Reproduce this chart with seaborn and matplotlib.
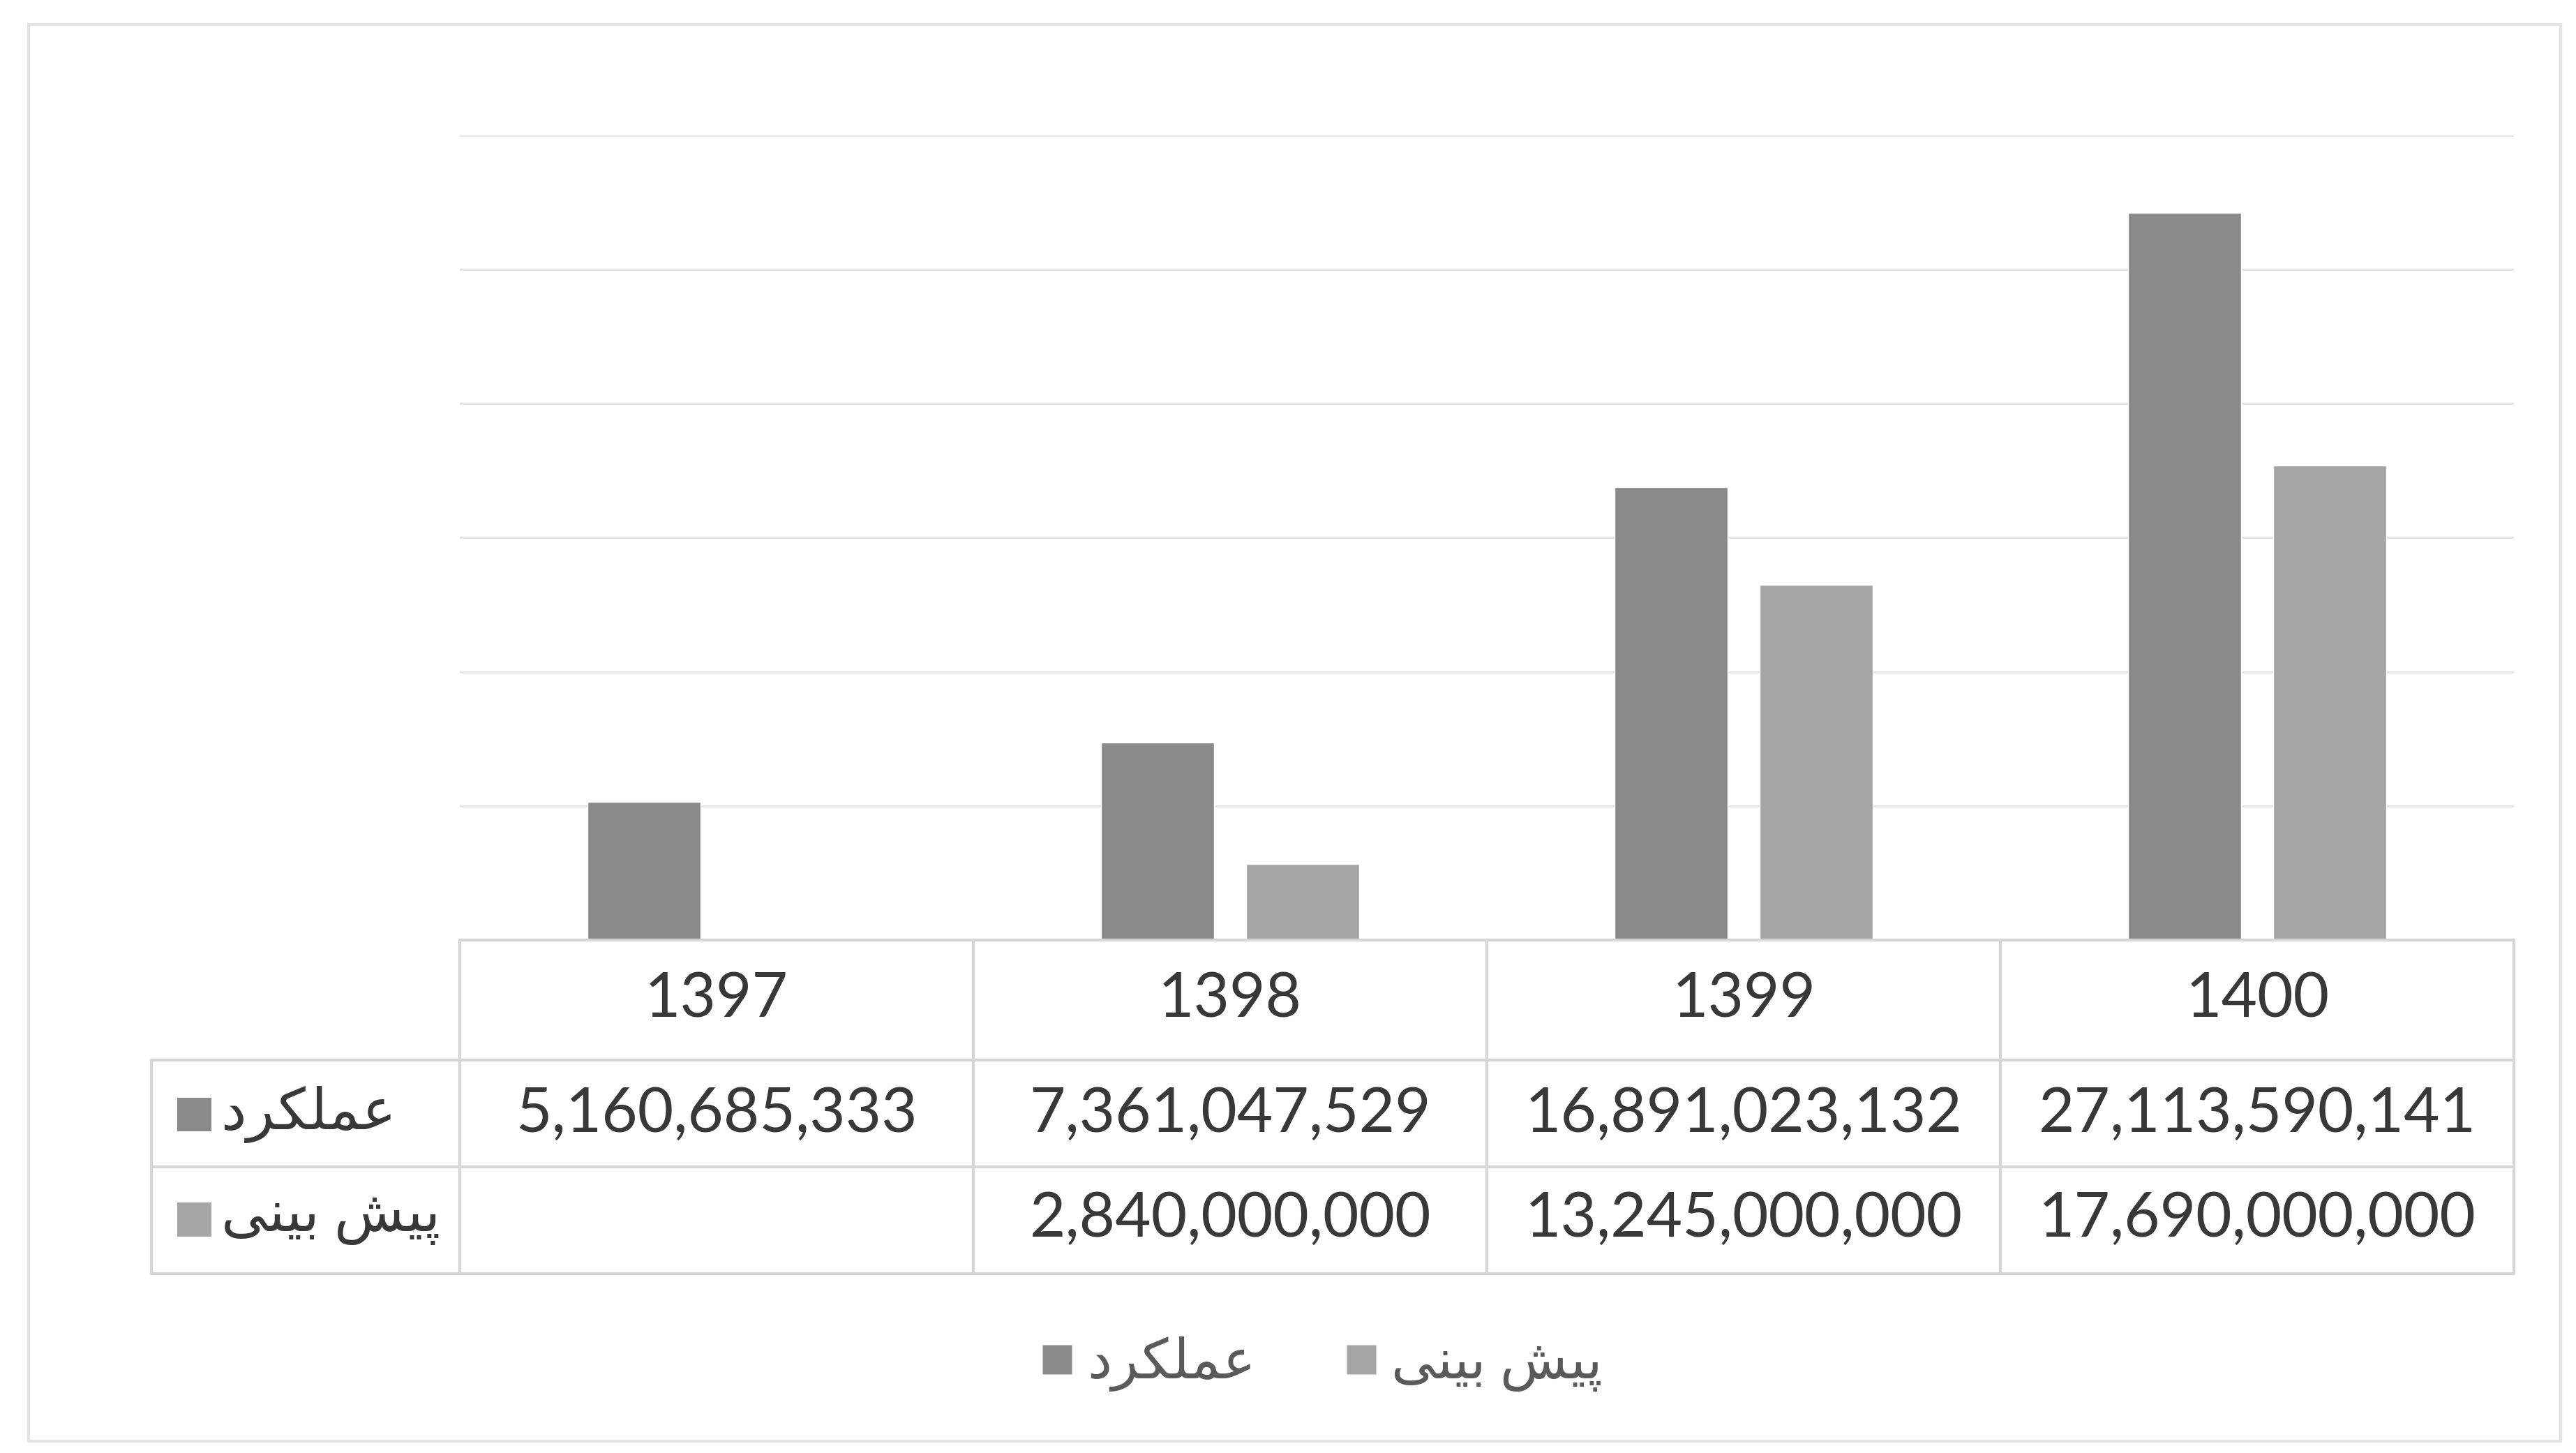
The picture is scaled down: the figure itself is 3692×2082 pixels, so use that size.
import numpy as np
import pandas as pd
import matplotlib
matplotlib.use('Agg')
import matplotlib.pyplot as plt
from matplotlib.patches import Rectangle
from matplotlib.lines import Line2D
import seaborn as sns

# داده‌ها
years = ['1397', '1398', '1399', '1400']
amalkard = [5160685333, 7361047529, 16891023132, 27113590141]
pish_bini = [np.nan, 2840000000, 13245000000, 17690000000]

# عملکرد / پیش بینی  (حروف به شکل اتصال‌یافته و ترتیب نمایشی، چون matplotlib شکل‌دهی عربی ندارد)
series_names = ['\uFEA9\uFEAE\uFB91\uFEE0\uFEE4\uFECB',
                '\uFBFD\uFEE8\uFBFF\uFE91 \uFEB6\uFBFF\uFB58']
series_colors = ['#8a8a8a', '#a6a6a6']

df = pd.DataFrame({
    'year': years * 2,
    'value': amalkard + pish_bini,
    'series': [series_names[0]] * 4 + [series_names[1]] * 4,
}).dropna()

sns.set_theme(style='white')
plt.rcParams['font.family'] = ['Lato', 'DejaVu Sans']

text_color = '#383838'
line_color = '#d6d6d6'

fig = plt.figure(figsize=(36.92, 20.82), dpi=100)
fig.patch.set_facecolor('white')
ax = fig.add_axes([0.1785, 0.353, 0.7975, 0.554])

sns.barplot(data=df, x='year', y='value', hue='series', order=years,
            hue_order=series_names, palette=series_colors, width=0.565, gap=0.22,
            errorbar=None, saturation=1, legend=False, ax=ax)

ax.set_xlim(-0.5, 3.5)
ax.set_ylim(0, 30e9)
ax.set_yticks(np.arange(5e9, 30.1e9, 5e9))
ax.yaxis.grid(True, color='#e6e6e6', linewidth=2.5)
ax.set_axisbelow(True)
ax.tick_params(left=False, bottom=False, labelleft=False, labelbottom=False)
ax.set_xlabel('')
ax.set_ylabel('')
for s in ax.spines.values():
    s.set_visible(False)

# جدول داده زیر نمودار
tr = ax.get_xaxis_transform()
row_lines = [0.0, -0.149, -0.282, -0.414]
label_left = -1.1
ax.plot([-0.5, 3.5], [0, 0], transform=tr, color=line_color, lw=3, clip_on=False)
for yl in row_lines[1:]:
    ax.plot([label_left, 3.5], [yl, yl], transform=tr, color=line_color, lw=3, clip_on=False)
for xl in [-0.5, 0.5, 1.5, 2.5, 3.5]:
    ax.plot([xl, xl], [0, row_lines[-1]], transform=tr, color=line_color, lw=3, clip_on=False)
ax.plot([label_left, label_left], [row_lines[1], row_lines[-1]], transform=tr,
        color=line_color, lw=3, clip_on=False)

header_y = -0.0737
row_y = [-0.2166, -0.347]
for i, yr in enumerate(years):
    ax.text(i, header_y, yr, transform=tr, ha='center', va='center',
            fontsize=64, color=text_color, clip_on=False)
for r, vals in enumerate([amalkard, pish_bini]):
    for i, v in enumerate(vals):
        if pd.isna(v):
            continue
        ax.text(i, row_y[r], f'{v:,.0f}', transform=tr, ha='center', va='center',
                fontsize=64, color=text_color, clip_on=False)
    ax.add_patch(Rectangle((-1.05, row_y[r] - 0.021), 0.066, 0.042, transform=tr,
                           facecolor=series_colors[r], edgecolor='none', clip_on=False))
    ax.text(-0.965, row_y[r], series_names[r], transform=tr, ha='left', va='center',
            fontsize=59, color=text_color, clip_on=False,
            family=['Lato', 'DejaVu Sans'])

# راهنما
handles = [Line2D([], [], marker='s', linestyle='none', markersize=30,
                  markerfacecolor=c, markeredgecolor='none') for c in series_colors]
leg = fig.legend(handles, series_names, loc='center', bbox_to_anchor=(0.513, 0.061),
                 ncol=2, frameon=False, fontsize=57, handlelength=0.6,
                 handletextpad=0.25, columnspacing=1.6, labelcolor='#5a5a5a')

# قاب بیرونی نمودار
fig.add_artist(Rectangle((0.011, 0.008), 0.983, 0.975, transform=fig.transFigure,
                         fill=False, edgecolor='#e4e4e4', linewidth=3))

fig.savefig('out.png', dpi=100, facecolor='white')
